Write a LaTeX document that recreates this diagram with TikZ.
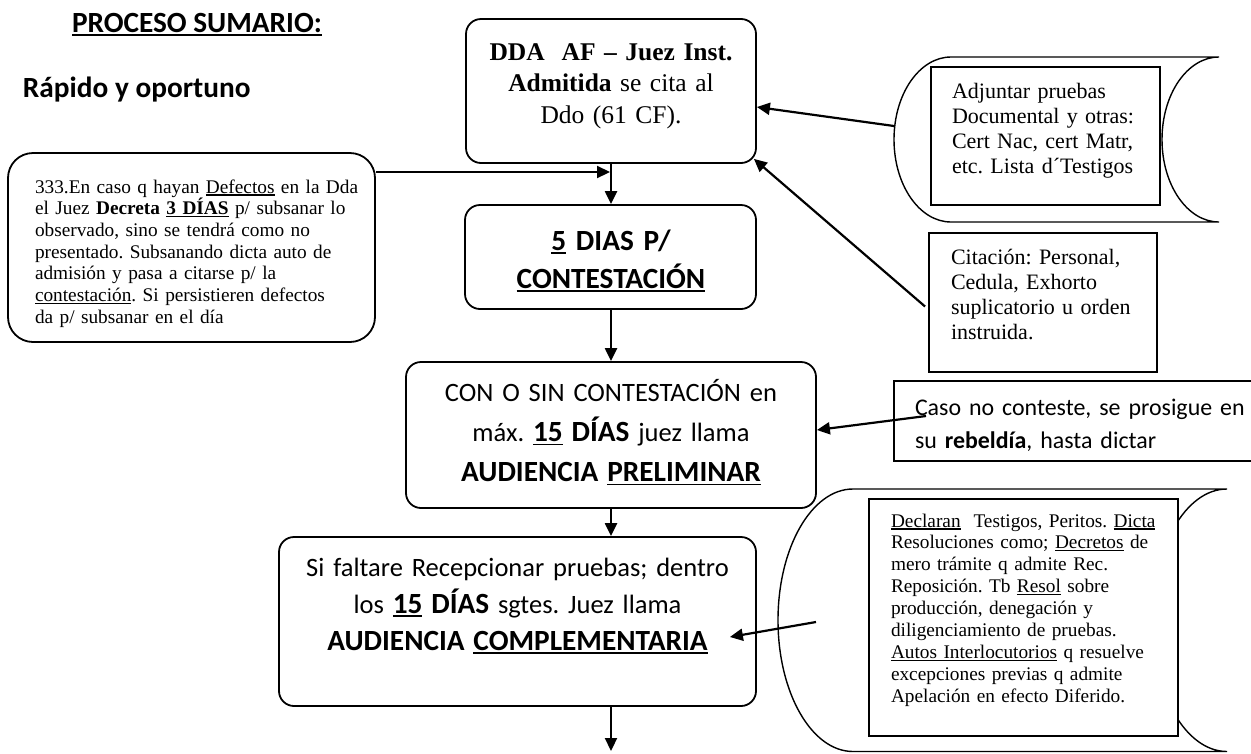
\documentclass[tikz,border=0pt]{standalone}
\usepackage{fontspec}
\setmainfont{Liberation Serif}
\setsansfont{Carlito}
\usetikzlibrary{arrows.meta}
\frenchspacing
\newcommand\ul[1]{\leavevmode\setbox0\hbox{#1}\rlap{\rule[-0.13em]{\wd0}{0.06em}}\box0\relax}
\newcommand\SB[1]{{\fontsize{29.3}{40}\selectfont\bfseries #1}}
\begin{document}
\begin{tikzpicture}[x=1pt,y=-1pt,
  box/.style={draw, line width=1.8pt, rounded corners=15pt, inner sep=0pt},
  sqbox/.style={draw, line width=1.9pt, fill=white, inner sep=0pt},
  outer/.style={draw, line width=1.4pt, fill=white},
  arr/.style={line width=2.2pt, -{Triangle[length=13pt,width=12pt]}},
  txt/.style={inner sep=0pt, outer sep=0pt},
]
\useasboundingbox (0,0) rectangle (1251,753);

% main boxes
\node[box, minimum width=290pt, minimum height=144pt] (A) at (611,91) {};
\node[box, minimum width=291pt, minimum height=104pt] (B) at (610.5,257) {};
\node[box, minimum width=410pt, minimum height=146pt] (C) at (611,435) {};
\node[box, minimum width=477pt, minimum height=169pt] (D) at (517.5,621.5) {};
\node[box, rounded corners=25pt, minimum width=367pt, minimum height=189pt] (L) at (191.5,247.5) {};

% stored-data shape (top right)
\path[outer] (951,57) -- (1219,57)
  .. controls (1187.5,57) and (1162,93.9) .. (1162,139.5)
  .. controls (1162,185.1) and (1187.5,222) .. (1219,222)
  -- (951,222)
  .. controls (919.5,222) and (894,185.1) .. (894,139.5)
  .. controls (894,93.9) and (919.5,57) .. (951,57) -- cycle;
\node[sqbox, minimum width=229pt, minimum height=138pt] (Ein) at (1045.5,136) {};
\node[sqbox, minimum width=228pt, minimum height=139pt] (F) at (1043,302.5) {};
\node[sqbox, minimum width=364pt, minimum height=80pt] (G) at (1076,421) {};

% stored-data shape (bottom right)
\path[outer] (853,489) -- (1227,489)
  .. controls (1185.6,489) and (1152,547.75) .. (1152,620.25)
  .. controls (1152,692.75) and (1185.6,751.5) .. (1227,751.5)
  -- (853,751.5)
  .. controls (811.6,751.5) and (778,692.75) .. (778,620.25)
  .. controls (778,547.75) and (811.6,489) .. (853,489) -- cycle;
\node[sqbox, minimum width=309pt, minimum height=237pt] (Hin) at (1023.5,617.5) {};

% texts
\node[txt, anchor=base west, font=\fontsize{29.3}{35}\sffamily\bfseries\selectfont] (title) at (72,32) {\ul{PROCESO SUMARIO:}};
\node[txt, anchor=base west, font=\fontsize{29.3}{35}\sffamily\bfseries\selectfont] (sub) at (23,97) {Rápido y oportuno};

\node[txt, anchor=base, text width=290pt, align=center, font=\fontsize{25.5}{31.5}\selectfont] (tA) at (611,60)
  {\textbf{DDA\ \ AF – Juez Inst.}\\ \textbf{Admitida} se cita al\\ Ddo (61 CF).};
\node[txt, anchor=base, text width=291pt, align=center, font=\fontsize{29.3}{38}\sffamily\bfseries\selectfont] (tB) at (611,250)
  {\ul{5} DIAS P/\\ \ul{CONTESTACIÓN}};
\node[txt, anchor=base west, text width=340pt, align=left, font=\fontsize{19.3}{21.7}\selectfont] (tL) at (35,193)
  {333.En caso q hayan \ul{Defectos} en la Dda\\ el Juez \textbf{Decreta \ul{3 DÍAS}} p/ subsanar lo\\ observado, sino se tendrá como no\\ presentado. Subsanando dicta auto de\\ admisión y pasa a citarse p/ la\\ \ul{contestación}. Si persistieren defectos\\ da p/ subsanar en el día};
\node[txt, anchor=base west, text width=210pt, align=left, font=\fontsize{22}{25}\selectfont] (tE) at (952,98)
  {Adjuntar pruebas\\ Documental y otras:\\ Cert Nac, cert Matr,\\ etc. Lista d´Testigos};
\node[txt, anchor=base west, text width=210pt, align=left, font=\fontsize{22}{25}\selectfont] (tF) at (951,264)
  {Citación: Personal,\\ Cedula, Exhorto\\ suplicatorio u orden\\ instruida.};
\node[txt, anchor=base west, text width=340pt, align=left, font=\fontsize{23.9}{33}\sffamily\selectfont] (tG) at (915,415)
  {Caso no conteste, se prosigue en\\ su \textbf{rebeldía}, hasta dictar};
\node[txt, anchor=base, text width=400pt, align=center, font=\fontsize{26.5}{40}\sffamily\selectfont] (tC) at (611,401.5)
  {CON O SIN CONTESTACIÓN en\\ máx. \SB{\ul{15} DÍAS} juez llama\\ \SB{AUDIENCIA \ul{PRELIMINAR}}};
\node[txt, anchor=base, text width=470pt, align=center, font=\fontsize{26.5}{37}\sffamily\selectfont] (tD) at (517.5,576)
  {Si faltare Recepcionar pruebas; dentro\\ los \SB{\ul{15} DÍAS} sgtes. Juez llama\\ \SB{AUDIENCIA \ul{COMPLEMENTARIA}}};
\node[txt, anchor=base west, text width=290pt, align=left, font=\fontsize{19.3}{21.9}\selectfont] (tH) at (891,527)
  {\ul{Declaran}\ \ Testigos, Peritos. \ul{Dicta}\\ Resoluciones como; \ul{Decretos} de\\ mero trámite q admite Rec.\\ Reposición. Tb \ul{Resol} sobre\\ producción, denegación y\\ diligenciamiento de pruebas.\\ \ul{Autos Interlocutorios} q resuelve\\ excepciones previas q admite\\ Apelación en efecto Diferido.};

% connectors
\coordinate (j) at (610,172);
\draw[arr] (L.east |- j) -- (j);
\draw[arr] (A.south) -- (A.south |- B.north);
\draw[arr] (B.south -| A.south) -- (A.south |- C.north);
\draw[arr] (C.south) -- (C.south |- D.north);
\coordinate (out) at (611,751);
\draw[arr] (D.south -| out) -- (out);
\coordinate (e1) at (894,126);
\draw[arr] (e1) -- ([yshift=-16pt]A.east);
\draw[arr] ([xshift=-3pt,yshift=-4pt]F.west) -- ([xshift=-3pt,yshift=5pt]A.south east);
\draw[arr] ([xshift=33pt,yshift=5pt]G.west) -- ([yshift=5pt]C.east);
\coordinate (h1) at (816,622);
\draw[arr] (h1) -- ([xshift=-27pt,yshift=-15.5pt]D.east);
\end{tikzpicture}
\end{document}
